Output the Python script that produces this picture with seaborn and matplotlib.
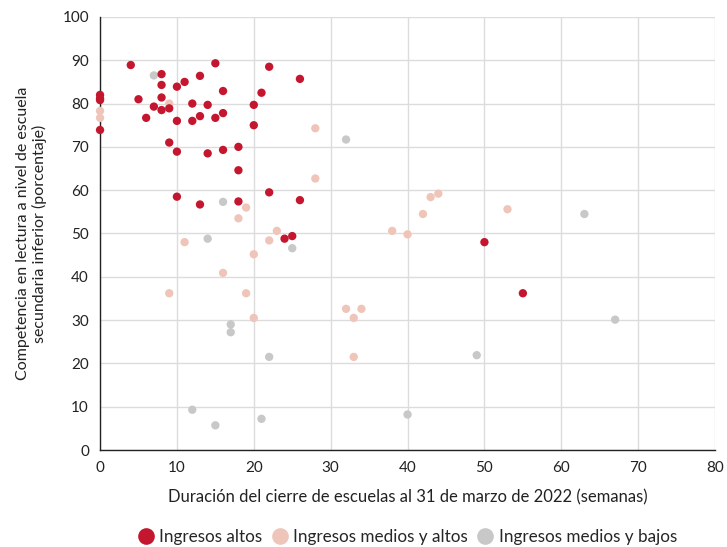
import numpy as np
import pandas as pd
import matplotlib.pyplot as plt
import seaborn as sns

# Duración del cierre (semanas) y competencia en lectura (%), por grupo de ingresos
altos_x = [0, 0, 0, 0, 4, 5, 6, 7, 8, 8, 8, 8, 9, 9, 10, 10, 10, 10, 11, 12, 12,
           13, 13, 13, 14, 14, 15, 15, 16, 16, 16, 18, 18, 18, 20, 20, 21, 22, 22,
           24, 25, 26, 26, 50, 55]
altos_y = [82, 81.2, 80.8, 73.9, 88.9, 81, 76.7, 79.3, 86.8, 84.3, 81.4, 78.5, 78.9, 71,
           83.9, 76, 68.9, 58.5, 85, 80, 76, 86.4, 77.1, 56.7, 79.7, 68.5, 89.3, 76.7,
           82.9, 77.8, 69.3, 70, 64.6, 57.4, 79.7, 75, 82.5, 88.5, 59.5, 48.8, 49.4,
           85.7, 57.7, 48, 36.2]

medios_altos_x = [0, 0, 9, 9, 11, 16, 18, 19, 19, 20, 20, 22, 23, 28, 28, 32, 33, 33, 34,
                  38, 40, 42, 43, 44, 53]
medios_altos_y = [78.3, 76.7, 80, 36.2, 48, 40.9, 53.5, 56, 36.2, 45.2, 30.5, 48.4, 50.6,
                  74.3, 62.7, 32.6, 30.5, 21.5, 32.6, 50.6, 49.8, 54.5, 58.4, 59.2, 55.6]

medios_bajos_x = [7, 12, 14, 15, 16, 17, 17, 21, 22, 25, 32, 40, 49, 63, 67]
medios_bajos_y = [86.5, 9.3, 48.8, 5.7, 57.3, 29, 27.2, 7.2, 21.5, 46.6, 71.7, 8.2, 21.9,
                  54.5, 30.1]

grupos = ['Ingresos altos', 'Ingresos medios y altos', 'Ingresos medios y bajos']
colores = ['#c4172f', '#efc5b9', '#c8c8c8']

df = pd.concat([
    pd.DataFrame({'x': medios_bajos_x, 'y': medios_bajos_y, 'grupo': grupos[2]}),
    pd.DataFrame({'x': medios_altos_x, 'y': medios_altos_y, 'grupo': grupos[1]}),
    pd.DataFrame({'x': altos_x, 'y': altos_y, 'grupo': grupos[0]}),
], ignore_index=True)

sns.set_style('white')
plt.rcParams['font.family'] = ['Lato', 'DejaVu Sans']

fig = plt.figure(figsize=(7.27, 5.47), dpi=100)
ax = fig.add_axes([0.1376, 0.1773, 0.846, 0.7917])

sns.scatterplot(data=df, x='x', y='y', hue='grupo', hue_order=grupos,
                palette=colores, s=36, linewidth=0, alpha=1, ax=ax, legend=False)
for coll in ax.collections:
    coll.set_clip_on(False)
    coll.set_zorder(3)

ax.set_xlim(0, 80)
ax.set_ylim(0, 100)
ax.set_xticks(np.arange(0, 81, 10))
ax.set_yticks(np.arange(0, 101, 10))
ax.grid(True, color='#dcdcdc', linewidth=1)
ax.set_axisbelow(True)
for s in ['top', 'right']:
    ax.spines[s].set_visible(False)
for s in ['left', 'bottom']:
    ax.spines[s].set_color('#222222')
    ax.spines[s].set_linewidth(1)
    ax.spines[s].set_zorder(2)
ax.tick_params(axis='both', length=5, width=1, color='#222222', labelsize=11,
               labelcolor='#222222', direction='out', pad=3)

ax.set_xlabel('Duración del cierre de escuelas al 31 de marzo de 2022 (semanas)',
              fontsize=12, color='#222222', labelpad=10)
ax.set_ylabel('Competencia en lectura a nivel de escuela\nsecundaria inferior (porcentaje)',
              fontsize=11.5, color='#222222', labelpad=11)

handles = [plt.Line2D([], [], marker='o', linestyle='', markersize=12,
                      markerfacecolor=c, markeredgewidth=0) for c in colores]
fig.legend(handles, grupos, loc='lower center', bbox_to_anchor=(0.56, -0.025), ncol=3,
           frameon=False, fontsize=12.3, handletextpad=0.3, columnspacing=0.5,
           handlelength=1)

fig.savefig('out.png', dpi=100)
